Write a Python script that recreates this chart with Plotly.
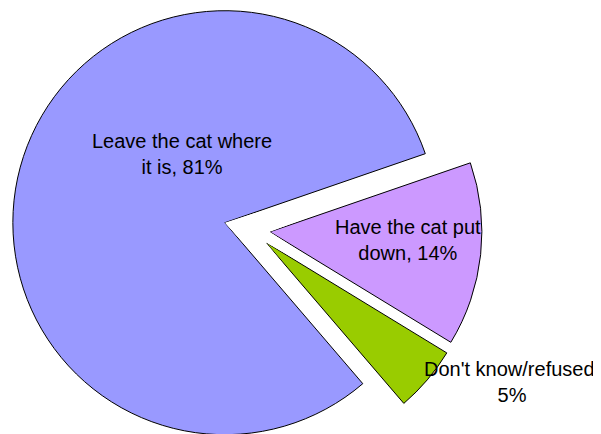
import math
import plotly.graph_objects as go

# ---------------- data ----------------
labels = ["Leave the cat where<br>it is", "Have the cat put<br>down", "Don't know/refused"]
values = [81, 14, 5]
separators = [", ", ", ", ",<br>"]
colors = ["#9999FF", "#CC99FF", "#99CC00"]

# ---------------- layout / style ----------------
W, H = 601, 434
PAGE_MARGIN = 8           # default body margin of the html page
R = 212.0                 # pie radius in px
CX, CY = 251.0, 229.8     # pie centre in window px (from top-left)
rotation = 139.4          # like pie.rotation: first slice starts here (deg clockwise from 12 o'clock)
pull_px = [27.1, 19.0, 19.5]
label_pos = [(181.8, 154.5), (408.3, 239.5), (511.7, 381.5)]
font_size = 20
pad_deg = 1.5
pad_px = 1.5


def sector_bbox(a0, a1):
    xs = [0.0, math.cos(math.radians(a0)), math.cos(math.radians(a1))]
    ys = [0.0, math.sin(math.radians(a0)), math.sin(math.radians(a1))]
    k = math.ceil(a0 / 90.0) * 90
    while k <= a1:
        xs.append(math.cos(math.radians(k)))
        ys.append(math.sin(math.radians(k)))
        k += 90
    return min(xs), min(ys), max(xs), max(ys)


fig = go.Figure()
total = float(sum(values))
a = 90.0 - rotation  # math angle (ccw from east)
layout_polars = {}
annotations = []
cx0, cy0 = CX - PAGE_MARGIN, CY - PAGE_MARGIN
for i, (lab, v, col) in enumerate(zip(labels, values, colors)):
    span = 360.0 * v / total
    hi = a
    lo = a - span
    a = lo
    mid = 0.5 * (hi + lo)
    key = "polar" if i == 0 else "polar%d" % (i + 1)
    ax = cx0 + pull_px[i] * math.cos(math.radians(mid))
    ay = cy0 - pull_px[i] * math.sin(math.radians(mid))
    s0, s1 = lo - pad_deg, hi + pad_deg
    x0, y0, x1, y1 = sector_bbox(s0, s1)
    Rp = R + pad_px
    left = max(0.0, ax + Rp * x0)
    right = min(W, ax + Rp * x1)
    top = max(0.0, ay - Rp * y1)
    bottom = min(H, ay - Rp * y0)
    layout_polars[key] = dict(
        domain=dict(x=[left / W, right / W], y=[1 - bottom / H, 1 - top / H]),
        sector=[s0, s1],
        bgcolor="rgba(0,0,0,0)",
        radialaxis=dict(visible=False, range=[0, Rp / R], showgrid=False,
                        showline=False, showticklabels=False, ticks=""),
        angularaxis=dict(visible=False, direction="counterclockwise", rotation=0,
                         showgrid=False, showline=False, showticklabels=False, ticks=""),
    )
    fig.add_trace(go.Barpolar(
        r=[1], theta=[mid], width=[span], subplot=key,
        marker=dict(color=col, line=dict(color="black", width=1)),
        name=lab.replace("<br>", " "), showlegend=False,
    ))
    px_, py_ = label_pos[i]
    annotations.append(dict(
        text=f"{lab}{separators[i]}{v}%",
        x=(px_ - PAGE_MARGIN) / W, y=1 - (py_ - PAGE_MARGIN) / H,
        xref="paper", yref="paper",
        xanchor="center", yanchor="middle", showarrow=False, align="center",
        font=dict(family="Liberation Sans, Arial, sans-serif", size=font_size, color="black"),
    ))

fig.update_layout(
    width=W, height=H,
    margin=dict(l=0, r=0, t=0, b=0),
    paper_bgcolor="white", plot_bgcolor="white",
    showlegend=False,
    annotations=annotations,
    **layout_polars,
)

fig.write_html("out.html")
